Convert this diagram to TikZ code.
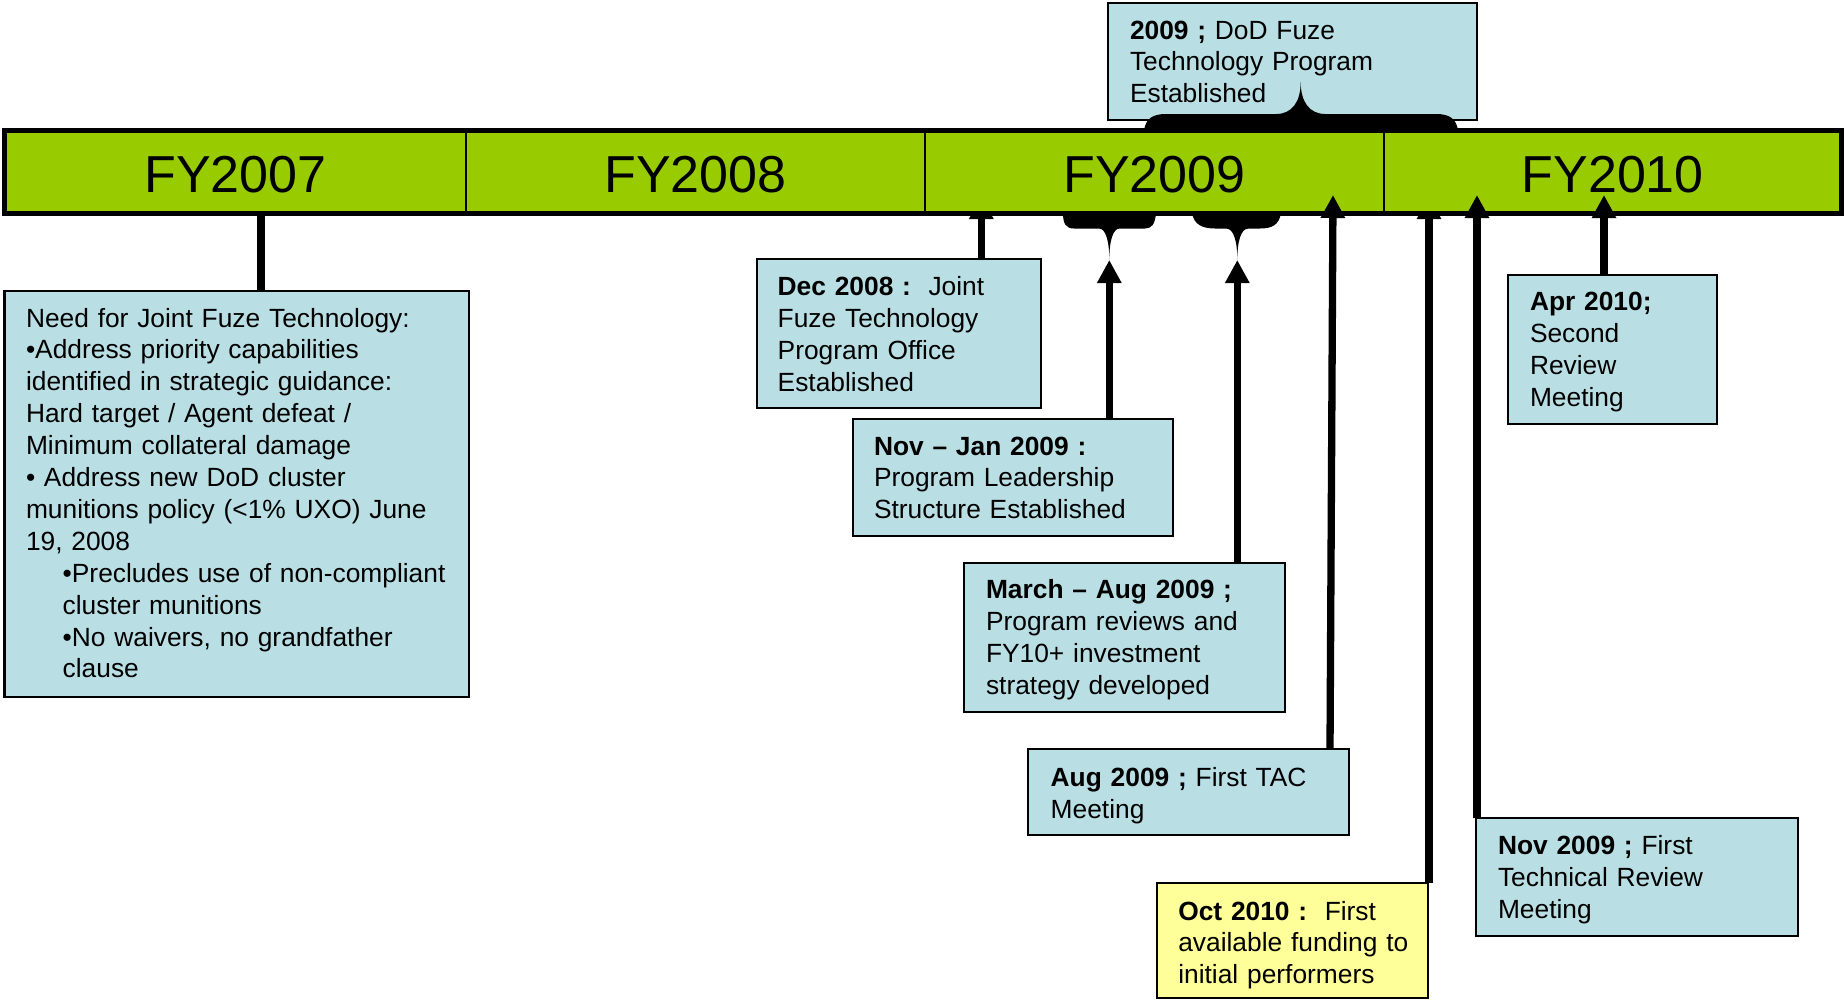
\documentclass[tikz,border=0pt]{standalone}
\usepackage{fontspec}
\setmainfont{Liberation Sans}
\usetikzlibrary{arrows.meta}
\definecolor{barGreen}{RGB}{153,204,0}
\definecolor{boxBlue}{RGB}{185,223,228}
\definecolor{boxYellow}{RGB}{255,255,153}
\tikzset{
  evbox/.style={draw=black, line width=2.2pt, fill=boxBlue, inner sep=0pt, outer sep=0pt,
    anchor=north west, align=left, font=\fontsize{26.35pt}{31.9pt}\selectfont},
  seg/.style={draw=black, line width=2.3pt, fill=barGreen, inner sep=0pt, outer sep=0pt,
    anchor=north west, minimum height=82.6pt, text height=41pt, text depth=0pt,
    font=\fontsize{52pt}{60pt}\selectfont},
  conn/.style={line width=7.3pt, -{Triangle[width=23pt,length=23pt]}},
  stem/.style={line width=7.3pt},
  bracefill/.style={fill=black},
}
\begin{document}
\begin{tikzpicture}[x=1pt,y=-1pt]
\useasboundingbox (0,0) rectangle (1845,1002);

% ---- event boxes ----
\node[evbox, text width=464.5pt, text height=36pt, text depth=370pt] (need) at (4.5,291)
 {\leftskip=21.5pt\relax Need for Joint Fuze Technology:\\
  •Address priority capabilities\\
  identified in strategic guidance:\\
  Hard target / Agent defeat /\\
  Minimum collateral damage\\
  • Address new DoD cluster\\
  munitions policy (<1\% UXO) June\\
  19, 2008\\
  \hspace*{36.7pt}•Precludes use of non-compliant\\
  \hspace*{36.7pt}cluster munitions\\
  \hspace*{36.7pt}•No waivers, no grandfather\\
  \hspace*{36.7pt}clause\par};

\node[evbox, text width=284.3pt, text height=36.4pt, text depth=112.6pt] (dec) at (756.7,259.3)
 {\leftskip=21pt\relax \textbf{Dec 2008 :}\ \ Joint\\Fuze Technology\\Program Office\\Established\par};

\node[evbox, text width=320pt, text height=36pt, text depth=81pt] (novjan) at (853.3,419)
 {\leftskip=20.7pt\relax \textbf{Nov – Jan 2009 :}\\Program Leadership\\Structure Established\par};

\node[evbox, text width=320.7pt, text height=35.6pt, text depth=114pt] (march) at (964.3,562.7)
 {\leftskip=21.7pt\relax \textbf{March – Aug 2009 ;}\\Program reviews and\\FY10+ investment\\strategy developed\par};

\node[evbox, text width=321pt, text height=37pt, text depth=48.7pt] (aug) at (1028.3,749.3)
 {\leftskip=22.4pt\relax \textbf{Aug 2009 ;} First TAC\\Meeting\par};

\node[evbox, fill=boxYellow, text width=271pt, text height=37.3pt, text depth=78pt] (oct) at (1157.3,882.7)
 {\leftskip=21pt\relax \textbf{Oct 2010 :}\ \ First\\available funding to\\initial performers\par};

\node[evbox, text width=322.3pt, text height=36pt, text depth=81.7pt] (novnine) at (1476,818.3)
 {\leftskip=22pt\relax \textbf{Nov 2009 ;} First\\Technical Review\\Meeting\par};

\node[evbox, text width=208.4pt, text height=35.7pt, text depth=113.6pt] (apr) at (1508.3,275)
 {\leftskip=21.7pt\relax \textbf{Apr 2010;}\\Second\\Review\\Meeting\par};

\node[evbox, text width=369pt, text height=36.3pt, text depth=81.3pt] (dod) at (1108,2.7)
 {\leftskip=22pt\relax \textbf{2009 ;} DoD Fuze\\Technology Program\\Established\par};

% ---- tip coordinates ----
\coordinate (tNeed) at (261,212);
\coordinate (tDec) at (981.3,196);
\coordinate (tOct) at (1429,196);
\coordinate (tNovJan) at (1109.3,260);
\coordinate (tMarch) at (1237.3,260);
\coordinate (tAug) at (1333,195);
\coordinate (tNovNine) at (1477,195);
\coordinate (tApr) at (1604,195);

% ---- connectors hidden under the bar ----
\draw[stem] (need.north -| tNeed) -- (tNeed);
\draw[conn] (dec.north -| tDec) -- (tDec);
\draw[conn] (oct.north -| tOct) -- (tOct);

% ---- timeline bar ----
\node[seg, minimum width=461.2pt] (fy07) at (4.8,130.8) {FY2007};
\node[seg, minimum width=459pt] (fy08) at (466,130.8) {FY2008};
\node[seg, minimum width=459pt] (fy09) at (925,130.8) {FY2009};
\node[seg, minimum width=457.5pt] (fy10) at (1384,130.8) {FY2010};
\draw[line width=5.3pt] (fy07.north west) rectangle (fy10.south east);

% ---- braces ----
\fill[bracefill] (1063,213) .. controls (1063,224) and (1066,228.5) .. (1074,228.5)
  -- (1099,228.5) .. controls (1106,228.5) and (1109.3,242) .. (1109.3,260)
  .. controls (1109.3,242) and (1112.6,228.5) .. (1119.6,228.5)
  -- (1145,228.5) .. controls (1152,228.5) and (1155,224) .. (1156,213) -- cycle;
\fill[bracefill] (1192,213) .. controls (1194,225) and (1203,228.5) .. (1215,228.5)
  -- (1226,228.5) .. controls (1234,228.5) and (1237.3,242) .. (1237.3,260)
  .. controls (1237.3,242) and (1240.6,228.5) .. (1248.6,228.5)
  -- (1260,228.5) .. controls (1272,228.5) and (1279,225) .. (1281,213) -- cycle;
\fill[bracefill] (1144,130) .. controls (1146,119) and (1152,114) .. (1166,114)
  -- (1276,114) .. controls (1292,114) and (1300.7,102) .. (1300.7,81.7)
  .. controls (1300.7,102) and (1309.4,114) .. (1325.4,114)
  -- (1436,114) .. controls (1450,114) and (1456,119) .. (1458,130) -- cycle;

% ---- visible connectors ----
\draw[conn] (novjan.north -| tNovJan) -- (tNovJan);
\draw[conn] (march.north -| tMarch) -- (tMarch);
\draw[conn] (aug.north -| 1330,0) -- (tAug);
\draw[conn] (novnine.north -| tNovNine) -- (tNovNine);
\draw[conn] (apr.north -| tApr) -- (tApr);
\end{tikzpicture}
\end{document}
